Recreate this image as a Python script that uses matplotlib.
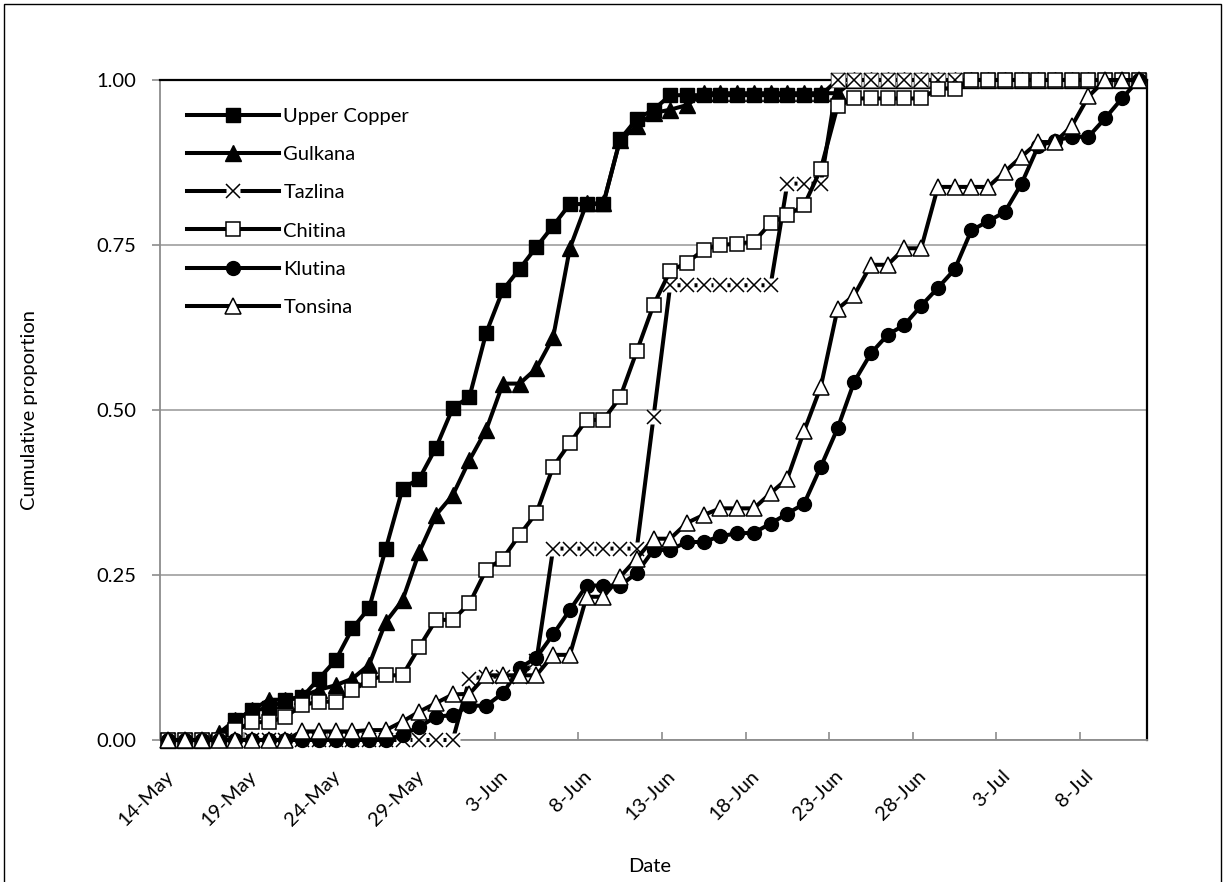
import numpy as np
import pandas as pd
import matplotlib
matplotlib.use("Agg")
import matplotlib.pyplot as plt
from matplotlib.legend_handler import HandlerTuple
from matplotlib.patches import Rectangle
from matplotlib.transforms import ScaledTranslation

plt.rcParams["font.family"] = ["Lato", "DejaVu Sans"]

# daily categories, 14 May - 11 Jul
dates = pd.date_range("2000-05-14", "2000-07-11", freq="D")
label_every = 5

upper_copper = [0, 0, 0, 0, 0.030, 0.045, 0.048, 0.060, 0.065, 0.093,
                0.121, 0.169, 0.200, 0.290, 0.381, 0.396, 0.443, 0.503, 0.520, 0.617,
                0.682, 0.714, 0.747, 0.779, 0.812, 0.812, 0.812, 0.910, 0.941, 0.955,
                0.977, 0.977, 0.977, 0.977, 0.977, 0.977, 0.977, 0.977, 0.977, 0.977,
                1, 1, 1, 1, 1, 1, 1, 1, 1, 1,
                1, 1, 1, 1, 1, 1, 1, 1, 1]
gulkana = [0, 0, 0, 0.010, 0.030, 0.045, 0.061, 0.061, 0.066, 0.076,
           0.083, 0.093, 0.114, 0.179, 0.212, 0.285, 0.341, 0.371, 0.424, 0.470,
           0.540, 0.540, 0.563, 0.610, 0.745, 0.813, 0.813, 0.909, 0.930, 0.950,
           0.955, 0.962, 0.980, 0.980, 0.980, 0.980, 0.980, 0.980, 0.980, 0.980,
           0.980, 1, 1, 1, 1, 1, 1, 1, 1, 1,
           1, 1, 1, 1, 1, 1, 1, 1, 1]
tazlina = [0, 0, 0, 0, 0, 0, 0, 0, 0, 0,
           0, 0, 0, 0, 0, 0, 0, 0, 0.093, 0.096,
           0.096, 0.096, 0.120, 0.290, 0.290, 0.290, 0.290, 0.290, 0.290, 0.489,
           0.689, 0.689, 0.689, 0.689, 0.689, 0.689, 0.689, 0.843, 0.843, 0.843,
           1, 1, 1, 1, 1, 1, 1, 1, 1, 1,
           1, 1, 1, 1, 1, 1, 1, 1, 1]
chitina = [0, 0, 0, 0, 0.015, 0.027, 0.027, 0.035, 0.053, 0.058,
           0.058, 0.076, 0.091, 0.098, 0.098, 0.141, 0.182, 0.182, 0.207, 0.258,
           0.275, 0.311, 0.344, 0.414, 0.450, 0.485, 0.485, 0.519, 0.589, 0.659,
           0.711, 0.723, 0.743, 0.750, 0.752, 0.755, 0.783, 0.795, 0.810, 0.865,
           0.960, 0.972, 0.972, 0.972, 0.972, 0.972, 0.987, 0.987, 1, 1,
           1, 1, 1, 1, 1, 1, 1, 1, 1]
klutina = [0, 0, 0, 0, 0, 0, 0, 0, 0, 0,
           0, 0, 0, 0, 0.008, 0.020, 0.035, 0.038, 0.052, 0.052,
           0.071, 0.109, 0.125, 0.160, 0.197, 0.234, 0.234, 0.234, 0.253, 0.288,
           0.288, 0.300, 0.300, 0.309, 0.313, 0.314, 0.328, 0.343, 0.358, 0.414,
           0.472, 0.543, 0.586, 0.614, 0.629, 0.658, 0.685, 0.713, 0.772, 0.786,
           0.800, 0.843, 0.900, 0.908, 0.914, 0.914, 0.942, 0.972, 1.0]
tonsina = [0, 0, 0, 0, 0, 0, 0, 0, 0.013, 0.013,
           0.013, 0.013, 0.015, 0.015, 0.028, 0.043, 0.056, 0.069, 0.070, 0.098,
           0.098, 0.098, 0.098, 0.129, 0.129, 0.217, 0.217, 0.247, 0.275, 0.305,
           0.305, 0.329, 0.341, 0.351, 0.351, 0.351, 0.374, 0.396, 0.468, 0.535,
           0.653, 0.674, 0.720, 0.720, 0.745, 0.745, 0.838, 0.838, 0.838, 0.838,
           0.861, 0.884, 0.906, 0.906, 0.930, 0.975, 1, 1, 1]

x = np.arange(len(dates))
lw = 2.9
ms = 9.5
fs = 14.5

fig = plt.figure(figsize=(12.26, 8.82), dpi=100)
ax = fig.add_axes([160 / 1226, 1 - 740 / 882, 987 / 1226, 660 / 882])

handles = []
labels = []

h, = ax.plot(x, upper_copper, color="black", lw=lw, marker="s", ms=ms,
             mfc="black", mec="black", mew=1, zorder=3, clip_on=False)
handles.append(h); labels.append("Upper Copper")

h, = ax.plot(x, gulkana, color="black", lw=lw, marker="^", ms=ms + 1.5,
             mfc="black", mec="black", mew=1, zorder=4, clip_on=False)
handles.append(h); labels.append("Gulkana")

# x markers sit on a white box that hides the line underneath
t_line, = ax.plot(x, tazlina, color="black", lw=lw, zorder=5, clip_on=False)
t_box, = ax.plot(x, tazlina, ls="none", marker="s", ms=ms, mfc="white",
                 mec="none", zorder=5.1, clip_on=False)
t_x, = ax.plot(x, tazlina, ls="none", marker="x", ms=ms, mec="black",
               mew=1.1, zorder=5.2, clip_on=False)
handles.append((t_line, t_box, t_x)); labels.append("Tazlina")

h, = ax.plot(x, chitina, color="black", lw=lw, marker="s", ms=ms,
             mfc="white", mec="black", mew=1.1, zorder=6, clip_on=False)
handles.append(h); labels.append("Chitina")

h, = ax.plot(x, klutina, color="black", lw=lw, marker="o", ms=ms + 0.5,
             mfc="black", mec="black", mew=1, zorder=7, clip_on=False)
handles.append(h); labels.append("Klutina")

h, = ax.plot(x, tonsina, color="black", lw=lw, marker="^", ms=ms + 1.5,
             mfc="white", mec="black", mew=1.1, zorder=8, clip_on=False)
handles.append(h); labels.append("Tonsina")

ax.set_xlim(-0.5, len(dates) - 0.5)
ax.set_ylim(0, 1)

# y axis
yticks = [0, 0.25, 0.5, 0.75, 1.0]
ax.set_yticks(yticks)
ax.set_yticklabels([f"{v:.2f}" for v in yticks])
ax.tick_params(axis="y", direction="out", length=6, width=1.2, color="#8c8c8c",
               pad=11, labelsize=fs)
ax.grid(axis="y", color="#a6a6a6", lw=1.3, zorder=0)

# x axis: tick marks between categories, labels on every 5th day
ax.set_xticks(np.arange(label_every - 0.5, len(dates) - 1, label_every))
ax.tick_params(axis="x", which="major", direction="in", length=6, width=1.2,
               color="#8c8c8c", labelbottom=False)
ax.set_xticks(x[::label_every], minor=True)
ax.set_xticklabels([f"{d.day}-{d:%b}" for d in dates[::label_every]], minor=True)
ax.tick_params(axis="x", which="minor", length=0, pad=24, labelsize=fs)
for lab in ax.get_xticklabels(minor=True):
    lab.set_rotation(45)
    lab.set_ha("right")
    lab.set_va("center")
    lab.set_rotation_mode("anchor")
    lab.set_transform(lab.get_transform() + ScaledTranslation(1.5 / 72, 0, fig.dpi_scale_trans))

for side in ("left", "bottom"):
    ax.spines[side].set_color("#8c8c8c")
    ax.spines[side].set_linewidth(1.3)
for side in ("top", "right"):
    ax.spines[side].set_color("black")
    ax.spines[side].set_linewidth(1.6)

fig.text(30 / 1226, 1 - 410 / 882, "Cumulative proportion", rotation=90,
         ha="center", va="center", fontsize=fs)
fig.text(650 / 1226, 1 - 867 / 882, "Date", ha="center", va="center", fontsize=fs)

ax.legend(handles, labels, handler_map={tuple: HandlerTuple(ndivide=1, pad=0)},
          loc="upper left", bbox_to_anchor=(0.027, 0.958), frameon=False,
          fontsize=fs, handlelength=4.6, handletextpad=0.2, labelspacing=1.05,
          borderpad=0, borderaxespad=0, numpoints=1)

# chart area border
fig.patches.append(Rectangle((4 / 1226, -0.05), 1217 / 1226, 1.05 - 4 / 882,
                             transform=fig.transFigure, fill=False,
                             edgecolor="black", lw=1.0))

fig.savefig("out.png", dpi=100)
